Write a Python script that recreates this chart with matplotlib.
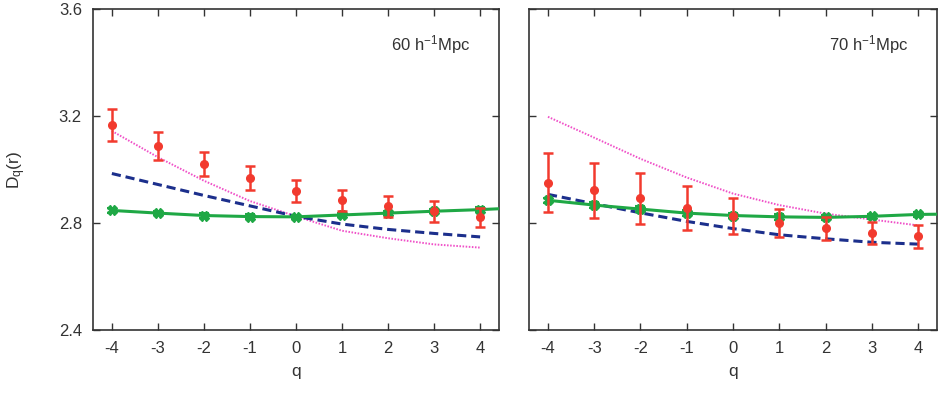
import numpy as np
import matplotlib.pyplot as plt

q = [-4, -3, -2, -1, 0, 1, 2, 3, 4]

# 60 h^-1 Mpc
red_60 = [3.168, 3.089, 3.022, 2.967, 2.920, 2.885, 2.862, 2.843, 2.821]
red_err_60 = [0.060, 0.052, 0.045, 0.045, 0.042, 0.040, 0.040, 0.038, 0.036]
green_60 = [2.847, 2.837, 2.828, 2.824, 2.823, 2.830, 2.837, 2.844, 2.850]
green_err_60 = [0.008, 0.008, 0.008, 0.008, 0.008, 0.008, 0.008, 0.008, 0.008]
blue_60 = [2.985, 2.944, 2.903, 2.864, 2.825, 2.796, 2.776, 2.761, 2.748]
pink_60 = [3.144, 3.046, 2.958, 2.882, 2.825, 2.771, 2.743, 2.720, 2.708]

# 70 h^-1 Mpc
red_70 = [2.951, 2.922, 2.892, 2.857, 2.826, 2.800, 2.781, 2.763, 2.750]
red_err_70 = [0.111, 0.104, 0.094, 0.082, 0.066, 0.054, 0.043, 0.040, 0.043]
green_70 = [2.885, 2.867, 2.852, 2.837, 2.828, 2.823, 2.821, 2.825, 2.832]
green_err_70 = [0.010, 0.010, 0.010, 0.010, 0.010, 0.010, 0.010, 0.010, 0.010]
blue_70 = [2.907, 2.872, 2.838, 2.806, 2.779, 2.756, 2.741, 2.728, 2.721]
pink_70 = [3.197, 3.119, 3.040, 2.970, 2.910, 2.867, 2.835, 2.813, 2.791]

# green curve runs past the last point to the frame
q_tail = 4.5
green_tail_60 = 2.854
green_tail_70 = 2.833

panels = [
    (red_60, red_err_60, green_60, green_err_60, green_tail_60, blue_60, pink_60, '60 h$^{-1}$Mpc'),
    (red_70, red_err_70, green_70, green_err_70, green_tail_70, blue_70, pink_70, '70 h$^{-1}$Mpc'),
]

plt.rcParams['font.family'] = 'Liberation Sans'
plt.rcParams['axes.unicode_minus'] = False
plt.rcParams['mathtext.default'] = 'regular'
fig = plt.figure(figsize=(9.45, 4), dpi=100)
ax1 = fig.add_axes([93/945, 70/400, 406/945, 321/400])
ax2 = fig.add_axes([529/945, 70/400, 408/945, 321/400])

red = '#f23a2e'
green = '#1fa845'
blue = '#1c2f8c'
pink = '#f050c8'
txt = '#333333'

for ax, (r, re, g, ge, gt, b, p, label) in zip([ax1, ax2], panels):
    ax.plot(q, p, color=pink, ls=':', lw=1.4, dashes=(0.8, 0.8), zorder=2)
    ax.plot(q, b, color=blue, ls='--', lw=2.2, dashes=(3, 1.6), zorder=3)
    ax.plot(q + [q_tail], g + [gt], color=green, lw=2.2, zorder=4)
    ax.errorbar(q, g, yerr=ge, fmt='X', color=green, ms=7, capsize=3.5,
                elinewidth=1.5, capthick=1.5, zorder=5)
    ax.errorbar(q, r, yerr=re, fmt='o', color=red, ms=5.5, capsize=3.5,
                elinewidth=1.8, capthick=1.8, zorder=6)
    ax.set_xlim(-4.41, 4.41)
    ax.set_ylim(2.4, 3.6)
    ax.set_xticks(q)
    ax.set_yticks([2.4, 2.8, 3.2, 3.6])
    ax.set_yticklabels(['2.4', '2.8', '3.2', '3.6'])
    ax.tick_params(direction='in', top=True, right=True, length=5, width=1,
                   labelsize=12, labelcolor=txt, color='#333333', pad=8)
    for s in ax.spines.values():
        s.set_linewidth(1.2)
        s.set_color('#333333')
    ax.set_xlabel('q', fontsize=12.5, color=txt, labelpad=6)
    ax.text(0.93, 0.89, label, transform=ax.transAxes, ha='right', va='center',
            fontsize=12, color=txt)

ax1.set_ylabel('D$_q$(r)', fontsize=12.5, color=txt, labelpad=22)
ax2.tick_params(labelleft=False)

plt.savefig('out.png', dpi=100)
